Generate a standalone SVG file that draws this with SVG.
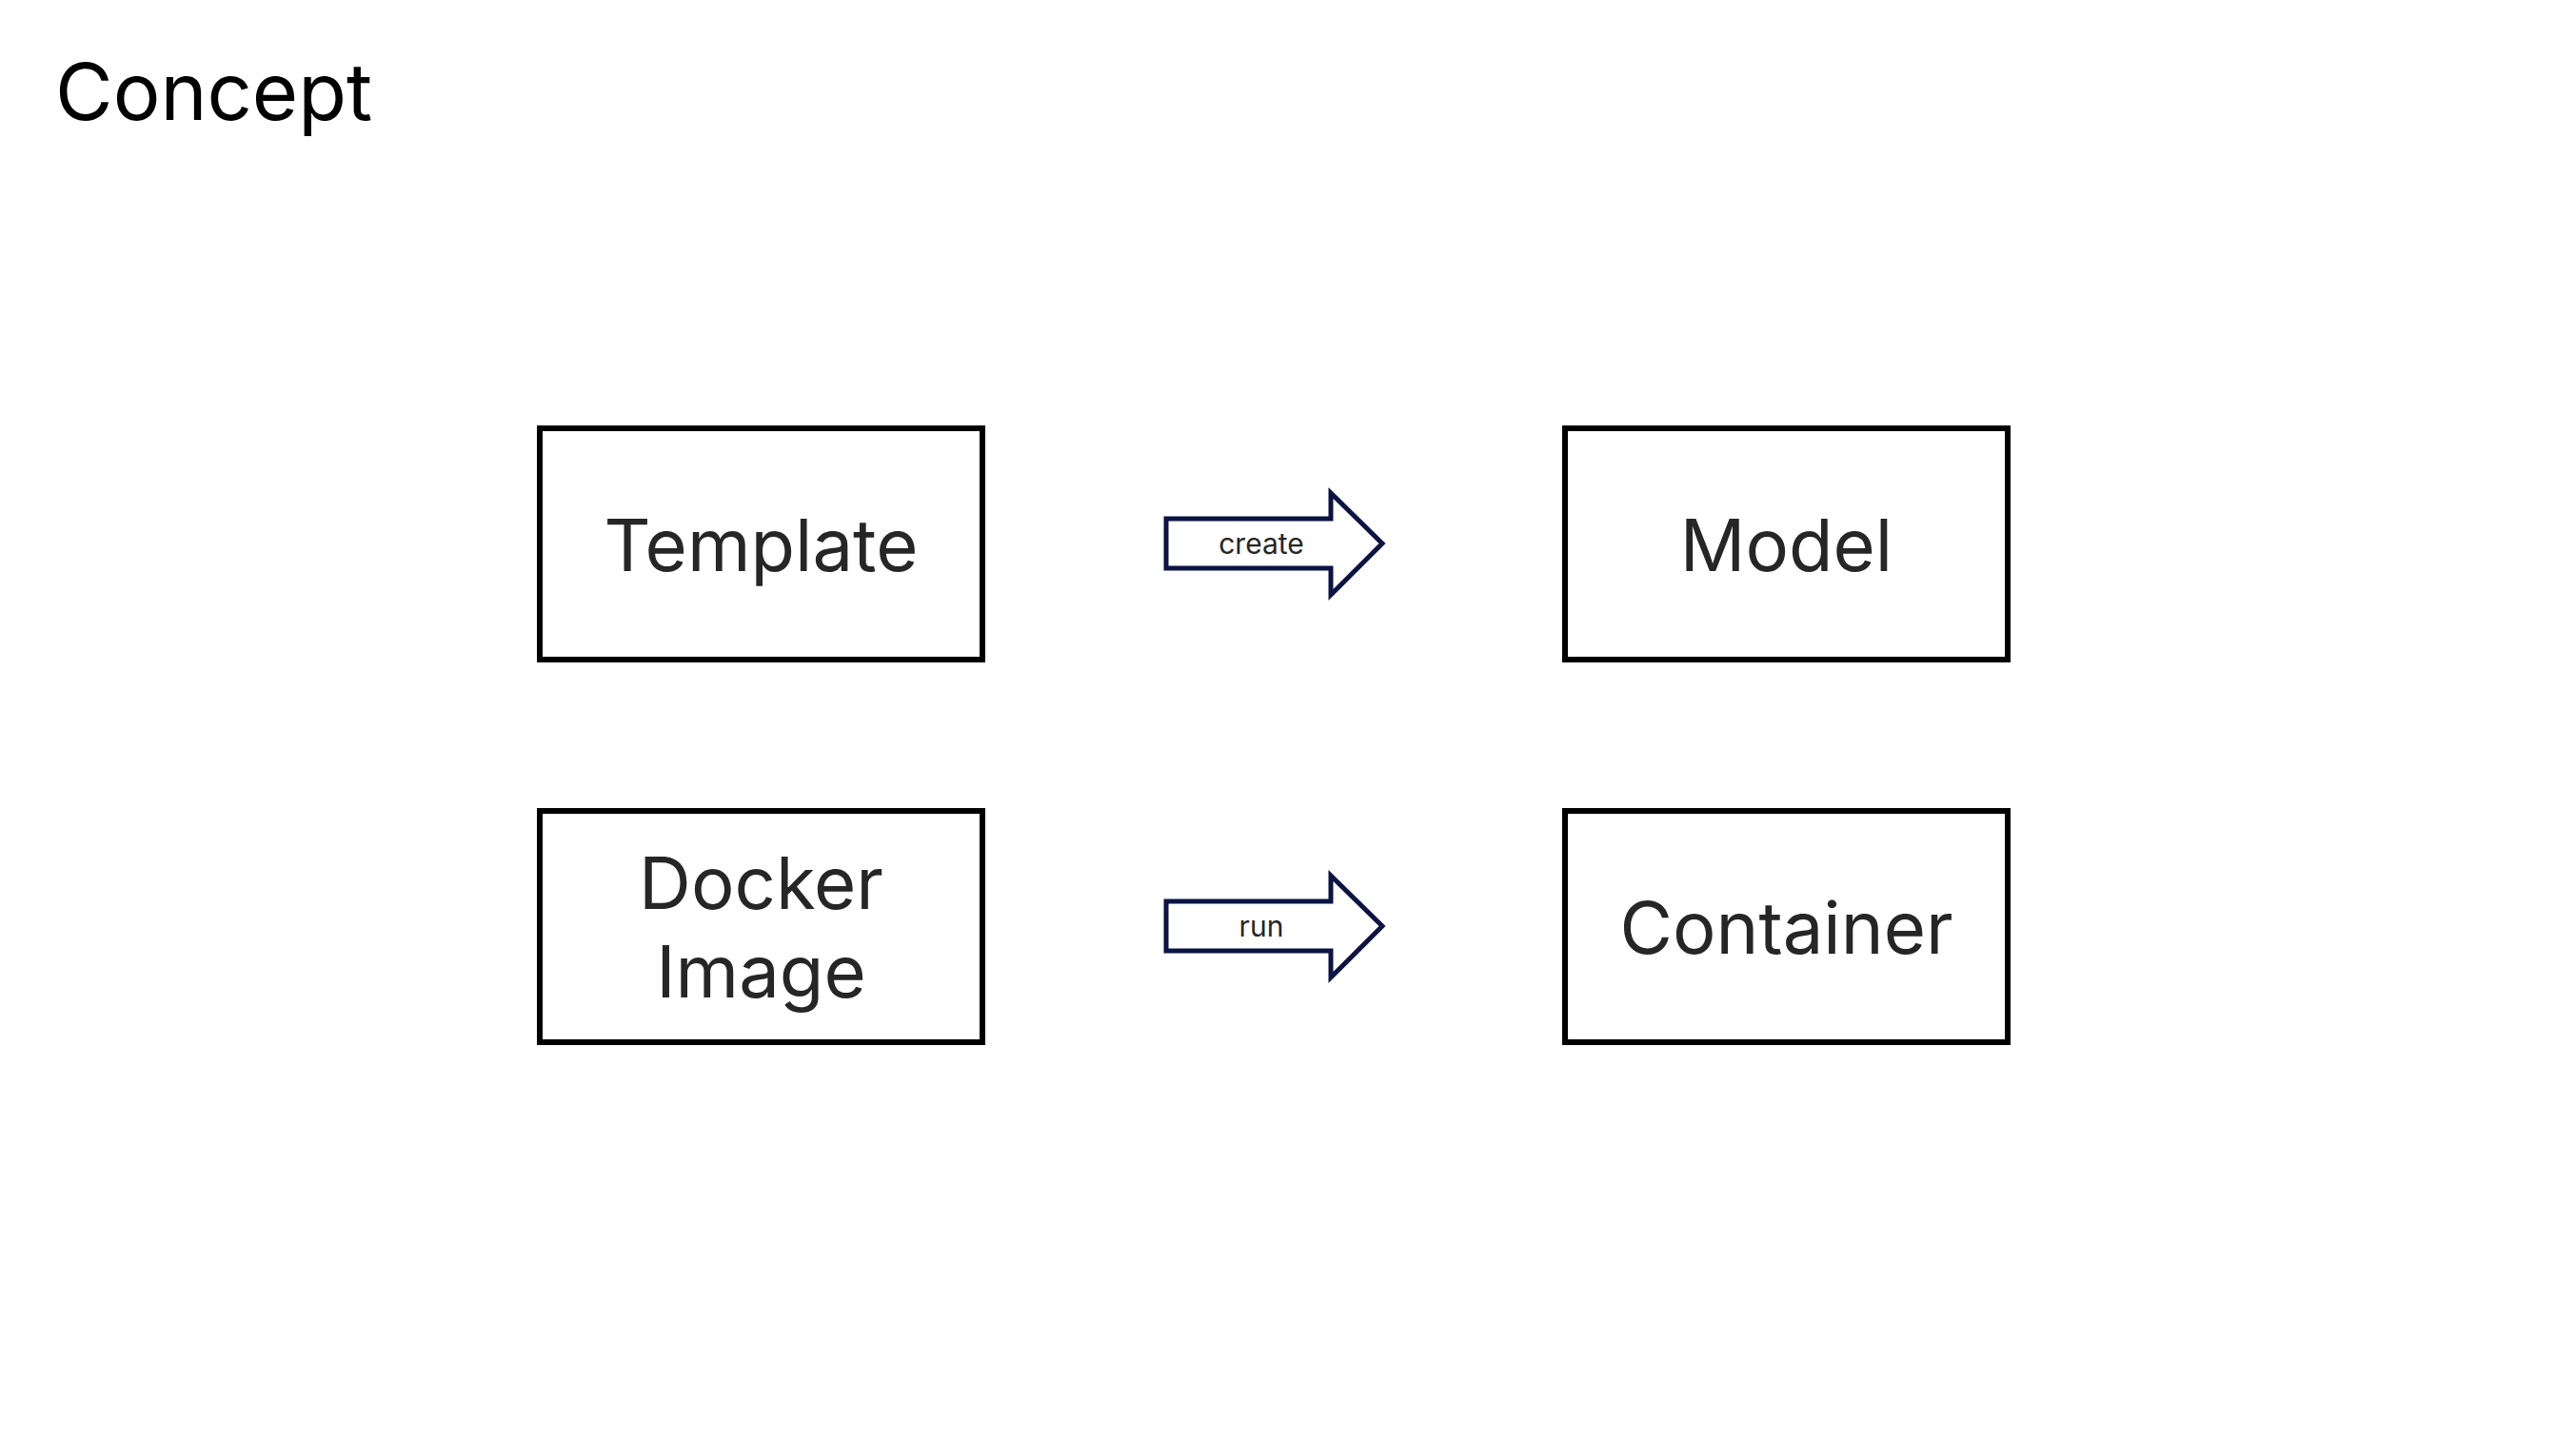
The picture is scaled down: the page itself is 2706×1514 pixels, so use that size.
<svg xmlns="http://www.w3.org/2000/svg" width="2706" height="1514" viewBox="0 0 2706 1514">
<style>
.box{fill:#ffffff;stroke:#000000;stroke-width:6}
.lbl{font-family:Inter,"Noto Sans",sans-serif;font-size:76px;fill:#262626;text-anchor:middle}
.arr{fill:#ffffff;stroke:#0b1442;stroke-width:5;stroke-linejoin:miter}
.alb{font-family:Inter,"Noto Sans",sans-serif;font-size:30px;fill:#262626;text-anchor:middle}
.title{font-family:Inter,"Noto Sans",sans-serif;font-size:83px;fill:#000000}
</style>
<rect width="2706" height="1514" fill="#ffffff"/>
<text class="title" x="58" y="126">Concept</text>
<g id="template">
<rect class="box" x="567" y="450" width="465" height="243"/>
<text class="lbl" x="799.5" y="600">Template</text>
</g>
<g id="model">
<rect class="box" x="1644" y="450" width="465" height="243"/>
<text class="lbl" x="1876.5" y="600">Model</text>
</g>
<g id="docker-image">
<rect class="box" x="567" y="852" width="465" height="243"/>
<text class="lbl" x="799.5" y="955">Docker</text>
<text class="lbl" x="799.5" y="1048">Image</text>
</g>
<g id="container">
<rect class="box" x="1644" y="852" width="465" height="243"/>
<text class="lbl" x="1876.5" y="1002">Container</text>
</g>
<g id="connectors">
<g id="create">
<path class="arr" d="M1225,545 L1398,545 L1398,518 L1452,571 L1398,625 L1398,597 L1225,597 Z"/>
<text class="alb" x="1325" y="582">create</text>
</g>
<g id="run">
<path class="arr" d="M1225,947 L1398,947 L1398,920 L1452,973 L1398,1027 L1398,999 L1225,999 Z"/>
<text class="alb" x="1325" y="984">run</text>
</g>
</g>
</svg>
